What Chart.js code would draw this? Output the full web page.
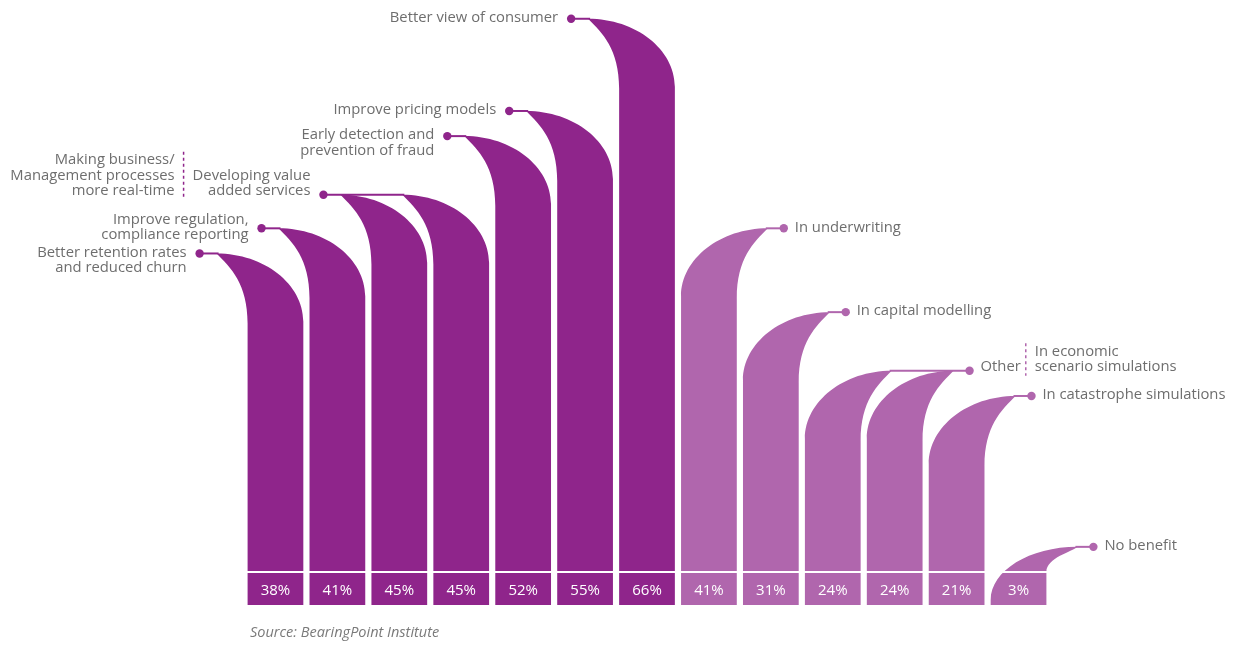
<!DOCTYPE html>
<html>
<head>
<meta charset="utf-8">
<script src="https://cdn.jsdelivr.net/npm/chart.js@4/dist/chart.umd.min.js"></script>
<style>
html, body { margin: 0; padding: 0; background: #fff; }
#wrap { position: relative; width: 1236px; height: 645px; }
</style>
</head>
<body>
<div id="wrap"><canvas id="chartBeneficios" width="1236" height="645"></canvas></div>
<script>
// datos
const categorias = [
    ["Better retention rates", "and reduced churn"],
    ["Improve regulation,", "compliance reporting"],
    ["Making business/", "Management processes", "more real-time"],
    ["Developing value", "added services"],
    ["Early detection and", "prevention of fraud"],
    ["Improve pricing models"],
    ["Better view of consumer"],
    ["In underwriting"],
    ["In capital modelling"],
    ["Other"],
    ["In economic", "scenario simulations"],
    ["In catastrophe simulations"],
    ["No benefit"]
];
const beneficios = [38, 41, 45, 45, 52, 55, 66, null, null, null, null, null, null];
const areas = [null, null, null, null, null, null, null, 41, 31, 24, 24, 21, 3];
const anclaje = ["top", "middle", "bottom", "bottom", "top", "top", "top", "top", "top", "bottom", "bottom", "top", "top"];
const fuente = "Source: BearingPoint Institute";

const colorOscuro = "#8f258b";
const colorClaro = "#b066ad";
const colorTexto = "#6e6e6e";
const fuenteTexto = '14.8px "Open Sans", "Noto Sans", sans-serif';

// borde exterior: sale horizontal del vertice y baja hasta (xe, y + h)
function curvaExterior(ctx, ax, y, xe, h) {
    ctx.bezierCurveTo(ax + 0.55 * (xe - ax), y, xe, y + 0.45 * h, xe, y + h);
}

// borde interior: sale en diagonal desde el vertice (se dibuja de abajo hacia arriba)
function curvaInterior(ctx, ax, y, xe, h) {
    const k = Math.min(14, 0.2 * h);
    const dir = xe > ax ? 1 : -1;
    ctx.bezierCurveTo(xe, y + 0.43 * h, ax + dir * k, y + k, ax, y);
}

function dibujarForma(ctx, x0, x1, yv, base, fondo, lado, color) {
    const hExt = Math.min(68, fondo - yv - 5);
    const hInt = Math.min(70, base - yv);
    ctx.fillStyle = color;
    ctx.beginPath();
    if (lado < 0) {
        const ax = x0 - 31;
        ctx.moveTo(ax, yv);
        curvaExterior(ctx, ax, yv, x1, hExt);
        ctx.lineTo(x1, fondo);
        ctx.lineTo(x0, fondo);
        ctx.lineTo(x0, yv + hInt);
        curvaInterior(ctx, ax, yv, x0, hInt);
    } else {
        const ax = x1 + 31;
        ctx.moveTo(ax, yv);
        curvaExterior(ctx, ax, yv, x0, hExt);
        ctx.lineTo(x0, fondo);
        ctx.lineTo(x1, fondo);
        ctx.lineTo(x1, yv + hInt);
        curvaInterior(ctx, ax, yv, x1, hInt);
    }
    ctx.closePath();
    ctx.fill();
}

function dibujarTexto(ctx, lineas, x, yDot, anc, alinear) {
    const lh = 15.5;
    let y0;
    if (anc === "top") y0 = yDot - 1;
    else if (anc === "middle") y0 = yDot - 1 - (lineas.length - 1) * lh / 2;
    else y0 = yDot - 4 - (lineas.length - 1) * lh;
    ctx.textAlign = alinear;
    lineas.forEach((l, k) => ctx.fillText(l, x, y0 + k * lh));
    let ancho = 0;
    lineas.forEach(l => { ancho = Math.max(ancho, ctx.measureText(l).width); });
    return { ancho, arriba: y0 - 8, abajo: y0 + (lineas.length - 1) * lh + 8 };
}

function separador(ctx, x, y1, y2, color) {
    ctx.save();
    ctx.strokeStyle = color;
    ctx.lineWidth = 1.5;
    ctx.setLineDash([3, 3]);
    ctx.beginPath();
    ctx.moveTo(x, y1);
    ctx.lineTo(x, y2);
    ctx.stroke();
    ctx.restore();
}

const formasPlugin = {
    id: "formas",
    afterDatasetsDraw(chart) {
        const ctx = chart.ctx;
        const base = chart.scales.y.getPixelForValue(0);
        const fondo = base + 33;
        ctx.save();
        chart.data.datasets.forEach((ds, di) => {
            const meta = chart.getDatasetMeta(di);
            const lado = di === 0 ? -1 : 1;
            const barras = [];
            meta.data.forEach((bar, i) => {
                if (ds.data[i] == null) return;
                const p = bar.getProps(["x", "y", "width"], true);
                barras.push({ i, v: ds.data[i], x0: p.x - p.width / 2, x1: p.x + p.width / 2, x: p.x, y: p.y });
            });

            barras.forEach(b => {
                dibujarForma(ctx, b.x0, b.x1, b.y, base, fondo, lado, ds.colorForma);
                // separacion blanca y porcentaje
                ctx.fillStyle = "#fff";
                ctx.fillRect(b.x0 - 1, base - 1, b.x1 - b.x0 + 2, 2);
                ctx.font = '15px "Open Sans", "Noto Sans", sans-serif';
                ctx.textAlign = "center";
                ctx.textBaseline = "middle";
                ctx.fillText(b.v + "%", b.x, (base + fondo) / 2 + 2);
            });

            // agrupar barras contiguas con el mismo valor
            const grupos = [];
            barras.forEach(b => {
                const g = grupos[grupos.length - 1];
                if (g && g[g.length - 1].v === b.v) g.push(b);
                else grupos.push([b]);
            });

            ctx.font = fuenteTexto;
            ctx.textBaseline = "middle";
            grupos.forEach(g => {
                const yv = g[0].y;
                let dotX, finX;
                if (lado < 0) {
                    dotX = g[0].x0 - 48;
                    finX = g[g.length - 1].x0 - 31;
                } else {
                    dotX = g[g.length - 1].x1 + 47;
                    finX = g[0].x1 + 31;
                }
                ctx.strokeStyle = ds.colorForma;
                ctx.lineWidth = 2;
                ctx.beginPath();
                ctx.moveTo(dotX, yv);
                ctx.lineTo(finX + (lado < 0 ? 2 : -2), yv);
                ctx.stroke();
                ctx.fillStyle = ds.colorForma;
                ctx.beginPath();
                ctx.arc(dotX, yv, 4.2, 0, Math.PI * 2);
                ctx.fill();

                // textos: el mas cercano al punto primero
                const orden = lado < 0 ? g.slice().reverse() : g.slice();
                let xt = dotX + lado * (lado < 0 ? 13 : 11);
                orden.forEach((b, k) => {
                    ctx.fillStyle = colorTexto;
                    const r = dibujarTexto(ctx, chart.data.labels[b.i], xt, yv, anclaje[b.i], lado < 0 ? "right" : "left");
                    if (k < orden.length - 1) {
                        const xs = xt + lado * (r.ancho + (lado < 0 ? 9 : 5));
                        const siguiente = chart.data.labels[orden[k + 1].i].length;
                        const arriba = Math.min(r.arriba, yv - 4 - (siguiente - 1) * 15.5 - 8);
                        separador(ctx, xs, arriba, r.abajo + 1, ds.colorForma);
                        xt = xs + lado * 9;
                    }
                });
            });
        });
        ctx.restore();

        // fuente
        ctx.save();
        ctx.font = 'italic 14.5px "Open Sans", "Noto Sans", sans-serif';
        ctx.fillStyle = "#7a7a7a";
        ctx.textAlign = "left";
        ctx.textBaseline = "middle";
        ctx.fillText(fuente, 250, 633);
        ctx.restore();
    }
};

const ctx = document.getElementById("chartBeneficios").getContext("2d");
new Chart(ctx, {
    type: "bar",
    data: {
        labels: categorias,
        datasets: [
            {
                label: "Benefits",
                data: beneficios,
                backgroundColor: "rgba(0,0,0,0)",
                colorForma: colorOscuro,
                grouped: false,
                categoryPercentage: 1,
                barPercentage: 0.9
            },
            {
                label: "Areas",
                data: areas,
                backgroundColor: "rgba(0,0,0,0)",
                colorForma: colorClaro,
                grouped: false,
                categoryPercentage: 1,
                barPercentage: 0.9
            }
        ]
    },
    options: {
        responsive: false,
        animation: false,
        devicePixelRatio: 1,
        layout: { padding: { left: 244.5, right: 186.5, top: 2, bottom: 73 } },
        scales: {
            x: { display: false },
            y: { display: false, min: 0, max: 68 }
        },
        plugins: {
            legend: { display: false },
            tooltip: { enabled: false }
        }
    },
    plugins: [formasPlugin]
});
</script>
</body>
</html>
